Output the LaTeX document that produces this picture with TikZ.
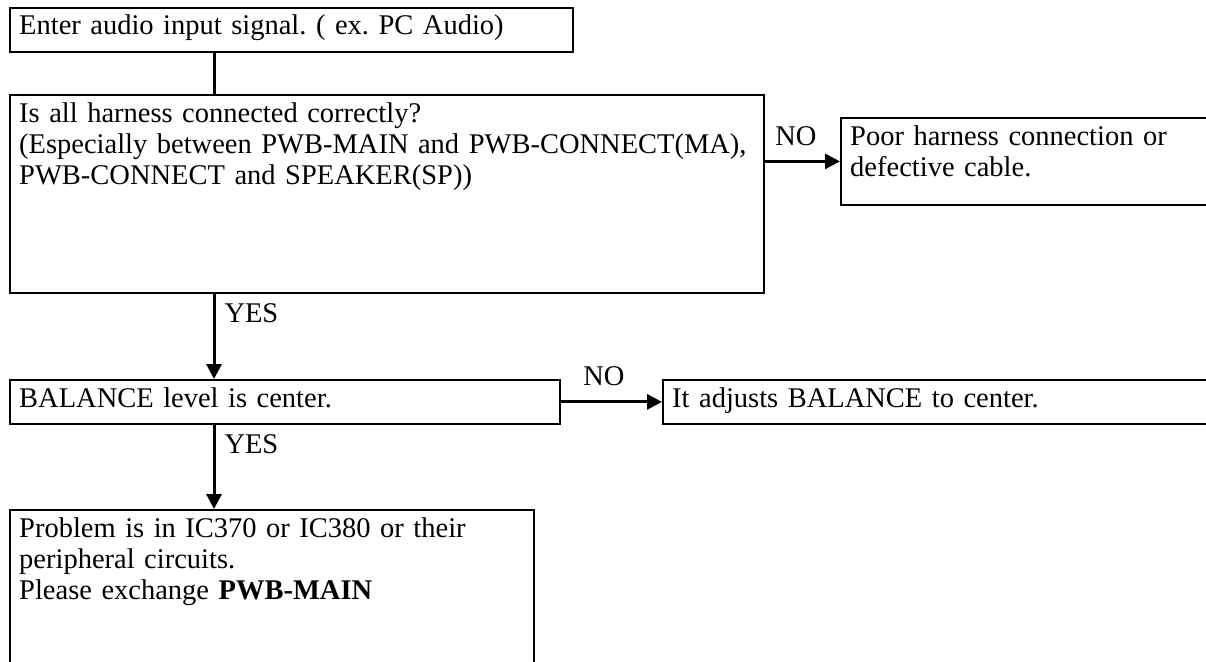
\documentclass[tikz,border=0pt]{standalone}
\usepackage{fontspec}
\setmainfont{Liberation Serif}
\usetikzlibrary{arrows.meta, calc}
\frenchspacing
\tikzset{
    box/.style={draw=black, line width=1.8pt, anchor=north west, inner sep=0pt},
    txt/.style={anchor=base west, inner sep=0pt, align=left, text width=800pt, font=\fontsize{28.5}{31}\selectfont},
    lbl/.style={anchor=base west, inner sep=0pt, font=\fontsize{28.5}{31}\selectfont},
    line/.style={line width=3pt},
    arrow/.style={-{Triangle[length=15pt, width=15pt]}, line width=3pt}
}

\begin{document}
\begin{tikzpicture}[x=1pt, y=-1pt]
        \clip (0,0) rectangle (1206,661);
        % Boxes of the chart
        \node [box, minimum width=563pt, minimum height=44pt] (start) at (9,7) {};
        \node [box, minimum width=754pt, minimum height=198pt] (harness) at (9,94) {};
        \node [box, minimum width=420pt, minimum height=87pt] (poor) at (840,117) {};
        \node [box, minimum width=550pt, minimum height=44pt] (balance) at (9,379) {};
        \node [box, minimum width=580pt, minimum height=44pt] (adjust) at (662,379) {};
        \node [box, minimum width=524pt, minimum height=200pt] (ic) at (9,509) {};
        \coordinate (spine) at (214,0);

        % Texts
        \node [txt] at ($(start.north west)+(10,28)$) {Enter audio input signal. ( ex. PC Audio)};
        \node [txt] at ($(harness.north west)+(10,28)$) {Is all harness connected correctly?\\(Especially between PWB-MAIN and PWB-CONNECT(MA),\\PWB-CONNECT and SPEAKER(SP))};
        \node [txt] at ($(poor.north west)+(10,28)$) {Poor harness connection or\\defective cable.};
        \node [txt] at ($(balance.north west)+(10,28)$) {BALANCE level is center.};
        \node [txt] at ($(adjust.north west)+(10,28)$) {It adjusts BALANCE to center.};
        \node [txt] at ($(ic.north west)+(10,28)$) {Problem is in IC370 or IC380 or their\\peripheral circuits.\\Please exchange \textbf{PWB-MAIN}};

        % Connectors
        \draw [line] (start.south -| spine) -- (harness.north -| spine);
        \draw [arrow] (harness.east |- poor.west) -- node[lbl, pos=0, xshift=9pt, yshift=16pt] {NO} (poor.west);
        \draw [arrow] (harness.south -| spine) -- node[lbl, pos=0, xshift=9pt, yshift=-29pt] {YES} (balance.north -| spine);
        \draw [arrow] (balance.east) -- node[lbl, pos=0, xshift=21pt, yshift=16pt] {NO} (adjust.west);
        \draw [arrow] (balance.south -| spine) -- node[lbl, pos=0, xshift=9pt, yshift=-29pt] {YES} (ic.north -| spine);
    \end{tikzpicture}
\end{document}
